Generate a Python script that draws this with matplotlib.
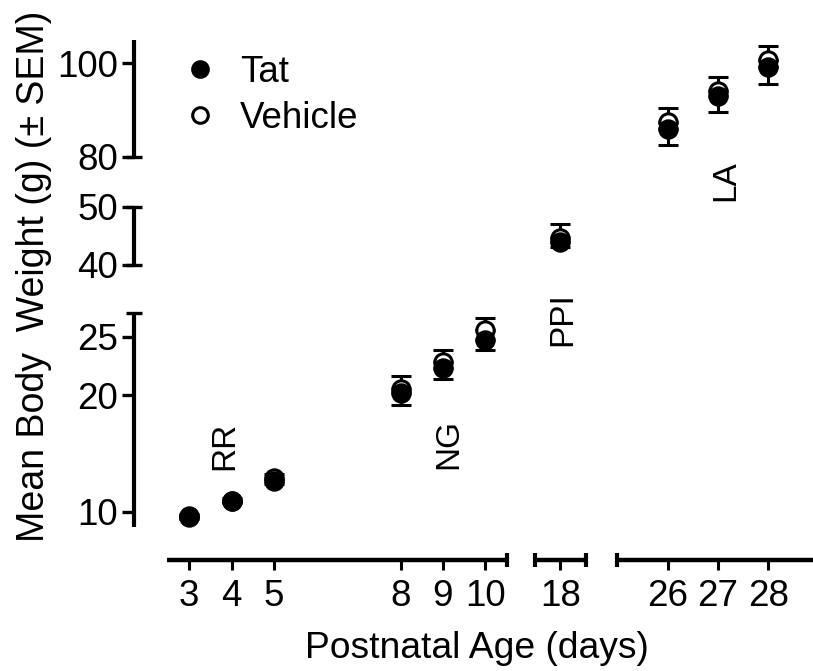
import numpy as np
import matplotlib
import matplotlib.pyplot as plt

matplotlib.use("Agg")

plt.rcParams["font.family"] = ["Liberation Sans", "DejaVu Sans"]

BLACK = "#000000"

days = [3, 4, 5, 8, 9, 10, 18, 26, 27, 28]
tat_mean = [9.55, 10.9, 12.65, 20.15, 22.3, 24.7, 44.0, 86.0, 92.9, 99.3]
tat_sem = [0.2, 0.2, 0.25, 1.0, 0.95, 0.85, 0.9, 3.4, 3.3, 3.7]
veh_mean = [9.6, 10.95, 12.9, 20.55, 22.85, 25.55, 44.7, 87.5, 94.1, 100.7]
veh_sem = [0.2, 0.2, 0.3, 1.1, 1.05, 1.05, 2.3, 3.0, 3.0, 3.0]

x_ticks = [3, 4, 5, 8, 9, 10, 18, 26, 27, 28]
y_ticks = [10, 20, 25, 40, 50, 80, 100]

# test windows marked on the plot: (label, day, weight)
windows = [("RR", 3.85, 15.6), ("NG", 9.15, 15.8), ("PPI", 18.05, 26.5), ("LA", 27.15, 65.4)]

# broken axes: data break points -> pixel positions inside the axes box
x_data_pts = [1.68, 2.465, 10.51, 17.4, 18.6, 25.0, 28.89]
x_pix_pts = [0.0, 33.2, 373.2, 401.5, 452.2, 483.8, 679.5]
y_data_pts = [5.86, 8.71, 27.06, 40, 50, 80, 105]
y_pix_pts = [0.0, 33.3, 247.3, 295.0, 353.3, 403.3, 520.0]
x_segments = [(2.465, 10.51), (17.4, 18.6), (25.0, 28.89)]
x_caps = [10.51, 17.4, 18.6, 25.0]
y_segments = [(8.71, 27.06), (40, 50), (80, 105)]
y_caps = [27.06, 40, 50, 80]


def piecewise(src, dst):
    src = np.asarray(src, float)
    dst = np.asarray(dst, float)

    def f(v):
        v = np.asarray(v, float)
        out = np.interp(v, src, dst)
        lo_slope = (dst[1] - dst[0]) / (src[1] - src[0])
        hi_slope = (dst[-1] - dst[-2]) / (src[-1] - src[-2])
        out = np.where(v < src[0], dst[0] + (v - src[0]) * lo_slope, out)
        out = np.where(v > src[-1], dst[-1] + (v - src[-1]) * hi_slope, out)
        return out

    return f


fig = plt.figure(figsize=(8.13, 6.71), dpi=100)
ax = fig.add_axes([133.5 / 813, 111 / 671, 679.5 / 813, 520 / 671])

ax.set_xscale("function", functions=(piecewise(x_data_pts, x_pix_pts), piecewise(x_pix_pts, x_data_pts)))
ax.set_yscale("function", functions=(piecewise(y_data_pts, y_pix_pts), piecewise(y_pix_pts, y_data_pts)))
ax.set_xlim(x_data_pts[0], x_data_pts[-1])
ax.set_ylim(y_data_pts[0], y_data_pts[-1])

for s in ax.spines.values():
    s.set_visible(False)

# broken spines with end caps
ytr = ax.get_yaxis_transform()
xtr = ax.get_xaxis_transform()
for a, b in y_segments:
    ax.plot([0, 0], [a, b], transform=ytr, color=BLACK, lw=3.0, clip_on=False, solid_capstyle="butt")
for c in y_caps:
    ax.plot([0], [c], transform=ytr, marker="_", ms=12, mew=2.4, color=BLACK, clip_on=False)
for a, b in x_segments:
    ax.plot([a, b], [0, 0], transform=xtr, color=BLACK, lw=3.2, clip_on=False, solid_capstyle="butt")
for c in x_caps:
    ax.plot([c], [0], transform=xtr, marker="|", ms=10.5, mew=3.0, color=BLACK, clip_on=False)

zeros = [0] * len(days)
ax.errorbar(days, veh_mean, yerr=[zeros, veh_sem], fmt="none", ecolor=BLACK,
            elinewidth=2.2, capsize=7.2, capthick=2.2, zorder=2)
veh_line, = ax.plot(days, veh_mean, "o", ms=12.5, mfc="white", mec=BLACK, mew=2.2,
                    zorder=3, label="Vehicle")
ax.errorbar(days, tat_mean, yerr=[tat_sem, zeros], fmt="none", ecolor=BLACK,
            elinewidth=2.2, capsize=7.2, capthick=2.2, zorder=4)
tat_line, = ax.plot(days, tat_mean, "o", ms=12.5, mfc=BLACK, mec=BLACK, mew=2.2,
                    zorder=5, label="Tat")

for label, d, w in windows:
    ax.text(d, w, label, rotation=90, ha="center", va="center", fontsize=24)

ax.set_xticks(x_ticks)
ax.set_xticklabels([str(t) for t in x_ticks])
ax.set_yticks(y_ticks)
ax.set_yticklabels([str(t) for t in y_ticks])
ax.minorticks_off()
ax.tick_params(axis="y", direction="out", length=8.6, width=2.4, pad=2.5, labelsize=26.5)
ax.tick_params(axis="x", direction="out", length=7.2, width=2.2, pad=6.5, labelsize=26.5)

ax.set_xlabel("Postnatal Age (days)", fontsize=26.8, va="baseline")
ax.xaxis.set_label_coords(0.506, (560 - 658) / 520)
ax.set_ylabel("Mean Body  Weight (g) (\u00b1 SEM)", fontsize=27, va="center")
ax.yaxis.set_label_coords((34 - 133.5) / 679.5, (560 - 276.5) / 520)

ax.legend([tat_line, veh_line], ["Tat", "Vehicle"], loc="upper left",
          bbox_to_anchor=(182 / 813, 1 - 55 / 671), bbox_transform=fig.transFigure,
          frameon=False, fontsize=26.5, markerscale=0.9, handlelength=1.0,
          handletextpad=0.58, borderpad=0, borderaxespad=0, labelspacing=0.3)

fig.savefig("out.png", dpi=100)
plt.close(fig)
